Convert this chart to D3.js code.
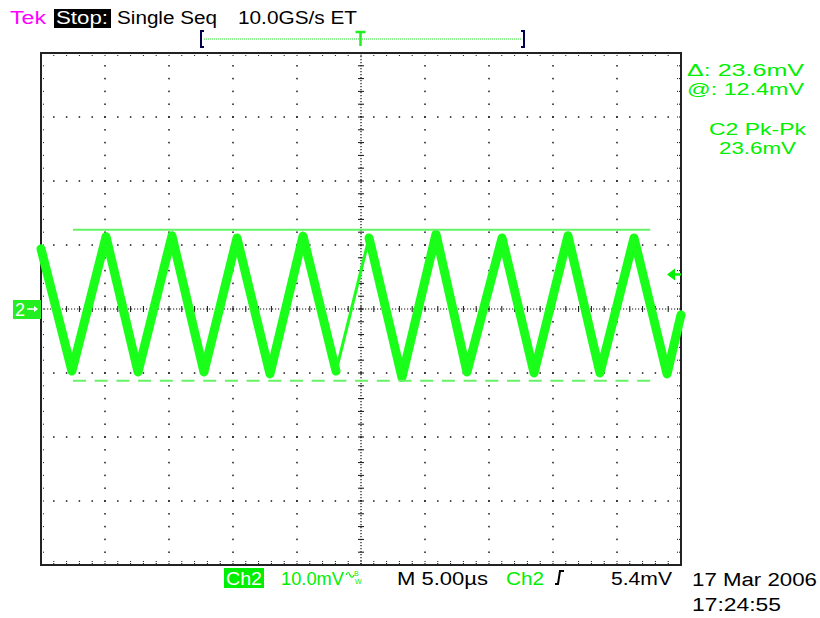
<!DOCTYPE html>
<html><head><meta charset="utf-8">
<script src="https://cdn.jsdelivr.net/npm/d3@7"></script>
<style>html,body{margin:0;padding:0;background:#fff;}svg{display:block;font-family:"Liberation Sans",Arial,sans-serif;}</style>
</head><body>
<svg id="c" width="820" height="618"></svg>
<script>
// ---- data ----
const timeDomainUs = [0, 50];          // 10 div x 5.00 us
const voltDomainMv = [-40, 40];        // 8 div x 10.0 mV
const vertexTimesUs = [0, 2.42, 5.08, 7.58, 10.23, 12.73, 15.31, 17.89, 20.47, 23.05, 25.63, 28.20, 30.86, 33.28, 36.02, 38.52, 41.17, 43.67, 46.33, 48.91, 50];
const vertexVoltsMv = [9.4, -9.7, 11.3, -9.85, 11.45, -9.85, 11.1, -10.15, 11.4, -9.7, 11.1, -10.7, 11.7, -9.85, 11.1, -10.0, 11.45, -10.0, 11.1, -10.15, -0.9];
const cursorTopMv = 12.4;
const cursorDeltaMv = 23.6;
const cursorSpanUs = [2.5, 47.6];
const triggerLevelMv = 5.4;
const triggerTimeUs = 25;
const headerTexts = ["Tek", "Stop:", "Single Seq", "10.0GS/s ET"];
const readoutTexts = ["\u0394: 23.6mV", "@: 12.4mV", "C2 Pk-Pk", "23.6mV"];
const footerTexts = ["Ch2", "10.0mV", "M 5.00\u00b5s", "Ch2", "5.4mV", "17 Mar 2006", "17:24:55"];

// ---- layout ----
const svg = d3.select("#c");
const L = 41, R = 681, T = 53, B = 565;
const x = d3.scaleLinear().domain(timeDomainUs).range([L, R]);
const y = d3.scaleLinear().domain(voltDomainMv).range([B, T]);
const green = "#00f000", wave = "#19ff19", cur = "#66f266", dark = "#111";

// grid
const g = svg.append("g");
const majX = d3.range(0, 51, 5), majY = d3.range(-40, 41, 10);
const minX = d3.range(0, 50.01, 1), minY = d3.range(-40, 40.01, 2);
majX.filter(v => v > 0 && v < 50 && v !== 25).forEach(v => {
  minY.forEach(m => g.append("rect").attr("x", x(v) - 0.75).attr("y", y(m) - 0.75).attr("width", 1.5).attr("height", 1.5).attr("fill", dark));
});
majY.filter(v => v > -40 && v < 40 && v !== 0).forEach(v => {
  minX.forEach(m => g.append("rect").attr("x", x(m) - 0.75).attr("y", y(v) - 0.75).attr("width", 1.5).attr("height", 1.5).attr("fill", dark));
});
g.append("line").attr("x1", L).attr("x2", R).attr("y1", y(0)).attr("y2", y(0)).attr("stroke", dark).attr("stroke-width", 1.2).attr("stroke-dasharray", "1.2,1.8");
g.append("line").attr("x1", x(25)).attr("x2", x(25)).attr("y1", T).attr("y2", B).attr("stroke", dark).attr("stroke-width", 1.2).attr("stroke-dasharray", "1.2,1.8");
minX.forEach(m => g.append("line").attr("x1", x(m)).attr("x2", x(m)).attr("y1", y(0) - 3).attr("y2", y(0) + 3).attr("stroke", dark).attr("stroke-width", 1));
minY.forEach(m => g.append("line").attr("x1", x(25) - 3).attr("x2", x(25) + 3).attr("y1", y(m)).attr("y2", y(m)).attr("stroke", dark).attr("stroke-width", 1));
minX.forEach(m => {
  g.append("line").attr("x1", x(m)).attr("x2", x(m)).attr("y1", T).attr("y2", T + 4).attr("stroke", dark).attr("stroke-width", 1).attr("stroke-dasharray", "1,1");
  g.append("line").attr("x1", x(m)).attr("x2", x(m)).attr("y1", B - 4).attr("y2", B).attr("stroke", dark).attr("stroke-width", 1).attr("stroke-dasharray", "1,1");
});
minY.forEach(m => {
  g.append("line").attr("x1", L).attr("x2", L + 4).attr("y1", y(m)).attr("y2", y(m)).attr("stroke", dark).attr("stroke-width", 1).attr("stroke-dasharray", "1,1");
  g.append("line").attr("x1", R - 4).attr("x2", R).attr("y1", y(m)).attr("y2", y(m)).attr("stroke", dark).attr("stroke-width", 1).attr("stroke-dasharray", "1,1");
});
g.append("rect").attr("x", L).attr("y", T).attr("width", R - L).attr("height", B - T).attr("fill", "none").attr("stroke", "#222").attr("stroke-width", 2);

// waveform
const pts = vertexTimesUs.map((t, i) => [t, vertexVoltsMv[i]]);
const line = d3.line().x(d => x(d[0])).y(d => y(d[1]));
const iThin = d3.bisectLeft(vertexTimesUs, triggerTimeUs) - 1; // segment crossing trigger is thin
svg.append("path").attr("d", line(pts)).attr("fill", "none").attr("stroke", wave).attr("stroke-width", 3).attr("stroke-linejoin", "round");
[pts.slice(0, iThin + 1), pts.slice(iThin + 1)].forEach(seg => {
  svg.append("path").attr("d", line(seg)).attr("fill", "none").attr("stroke", wave).attr("stroke-width", 9).attr("stroke-linejoin", "round").attr("stroke-linecap", "round");
});

// cursors
svg.append("line").attr("x1", x(cursorSpanUs[0])).attr("x2", x(cursorSpanUs[1])).attr("y1", y(cursorTopMv)).attr("y2", y(cursorTopMv)).attr("stroke", cur).attr("stroke-width", 2);
svg.append("line").attr("x1", x(cursorSpanUs[0])).attr("x2", x(cursorSpanUs[1])).attr("y1", y(cursorTopMv - cursorDeltaMv)).attr("y2", y(cursorTopMv - cursorDeltaMv)).attr("stroke", cur).attr("stroke-width", 2).attr("stroke-dasharray", "13,8.7");

// trigger level arrow (right)
const ty = y(triggerLevelMv);
svg.append("line").attr("x1", 672).attr("x2", 681).attr("y1", ty).attr("y2", ty).attr("stroke", green).attr("stroke-width", 2.5);
svg.append("path").attr("d", `M667,${ty} L675,${ty - 6} L675,${ty + 6} Z`).attr("fill", green);

// channel 2 ground marker (left)
const gy = y(0);
svg.append("rect").attr("x", 13).attr("y", gy - 9).attr("width", 28).attr("height", 19).attr("fill", "#22ee22");
svg.append("text").attr("x", 15).attr("y", gy + 7).attr("fill", "#fff").attr("font-size", 18).text("2");
svg.append("line").attr("x1", 27).attr("x2", 37).attr("y1", gy).attr("y2", gy).attr("stroke", "#fff").attr("stroke-width", 1.5);
svg.append("path").attr("d", `M38,${gy} L34,${gy - 3} L34,${gy + 3} Z`).attr("fill", "#fff");

// header
function txt(s, x0, w, yb, fill, size) {
  return svg.append("text").attr("x", x0).attr("y", yb).attr("fill", fill).attr("font-size", size || 18)
    .attr("textLength", w).attr("lengthAdjust", "spacingAndGlyphs").text(s);
}
txt(headerTexts[0], 10, 36, 24, "#ff00ff");
svg.append("rect").attr("x", 54).attr("y", 9).attr("width", 57).attr("height", 19).attr("fill", "#000");
txt(headerTexts[1], 56, 52, 24, "#fff");
txt(headerTexts[2], 117, 100, 24, "#000");
txt(headerTexts[3], 238, 119, 24, "#000");
svg.append("line").attr("x1", 204).attr("x2", 521).attr("y1", 39).attr("y2", 39).attr("stroke", "#22dd22").attr("stroke-width", 1).attr("stroke-dasharray", "1,1");
svg.append("path").attr("d", "M204,31 L201,31 L201,47 L204,47").attr("fill", "none").attr("stroke", "#000050").attr("stroke-width", 2);
svg.append("path").attr("d", "M521,31 L524,31 L524,47 L521,47").attr("fill", "none").attr("stroke", "#000050").attr("stroke-width", 2);
const tx = x(triggerTimeUs) - 0.5;
svg.append("path").attr("d", `M${tx - 5},32 L${tx + 5},32 M${tx},32 L${tx},46`).attr("stroke", "#22ee22").attr("stroke-width", 2.5).attr("fill", "none");

// right readouts
txt(readoutTexts[0], 687, 117, 76, green, 16);
txt(readoutTexts[1], 687, 117, 95, green, 16);
txt(readoutTexts[2], 709, 97, 135, green, 16);
txt(readoutTexts[3], 719, 77, 154, green, 16);

// footer
svg.append("rect").attr("x", 224).attr("y", 568).attr("width", 40).attr("height", 20).attr("fill", "#00ee00");
txt(footerTexts[0], 226, 36, 585, "#fff");
txt(footerTexts[1], 281, 63, 585, green);
svg.append("path").attr("d", "M346,575 q2,-5 4,0 q2,5 4,0").attr("fill", "none").attr("stroke", green).attr("stroke-width", 1.2);
svg.append("text").attr("x", 354).attr("y", 576).attr("font-size", 7).attr("fill", green).text("B");
svg.append("text").attr("x", 355).attr("y", 584).attr("font-size", 7).attr("fill", green).text("W");
txt(footerTexts[2], 397, 91, 585, "#000");
txt(footerTexts[3], 506, 38, 585, green);
svg.append("path").attr("d", "M555,584 L558,584 L560,571 L564,571").attr("fill", "none").attr("stroke", "#000").attr("stroke-width", 2);
txt(footerTexts[4], 611, 61, 585, "#000");
txt(footerTexts[5], 692, 125, 586, "#000");
txt(footerTexts[6], 692, 89, 611, "#000");
</script>
</body></html>
